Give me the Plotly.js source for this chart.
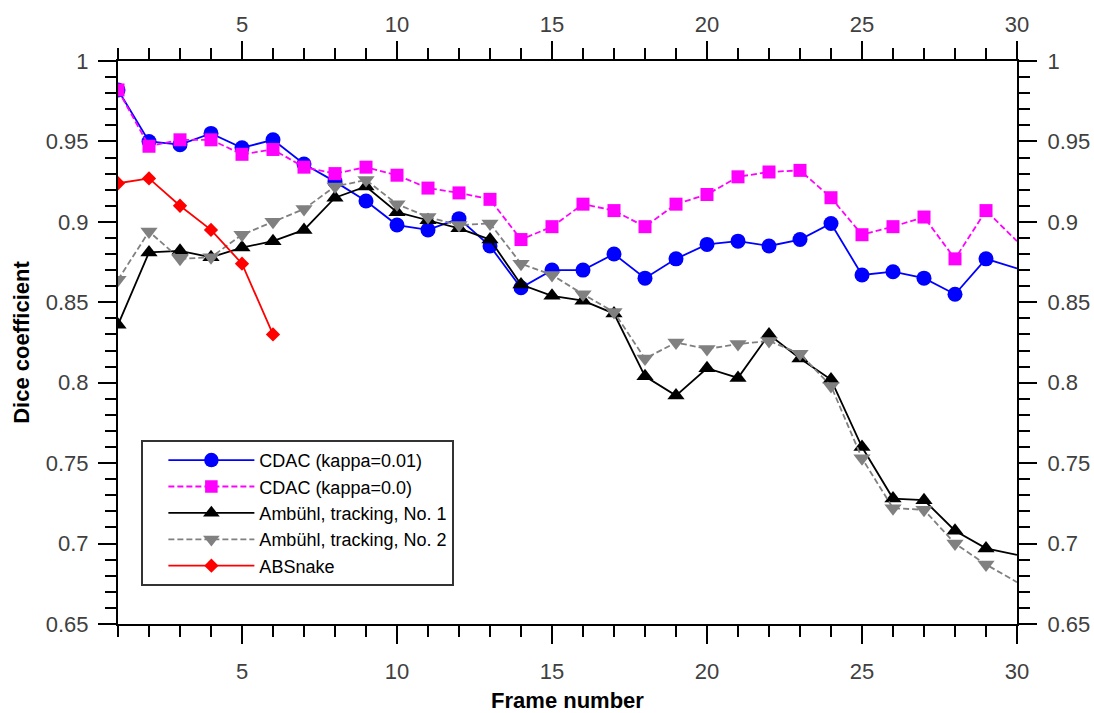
<!DOCTYPE html>
<html>
<head>
<meta charset="utf-8">
<script src="https://cdn.plot.ly/plotly-3.0.1.min.js"></script>
<style>html,body{margin:0;padding:0;background:#fff}#chart{width:1094px;height:713px}</style>
</head>
<body>
<div id="chart"></div>
<script>
var frames = [1,2,3,4,5,6,7,8,9,10,11,12,13,14,15,16,17,18,19,20,21,22,23,24,25,26,27,28,29,30];
var cdac001 = [0.982,0.950,0.948,0.955,0.946,0.951,0.936,0.925,0.913,0.898,0.895,0.902,0.885,0.859,0.870,0.870,0.880,0.865,0.877,0.886,0.888,0.885,0.889,0.899,0.867,0.869,0.865,0.855,0.877,0.871];
var cdac00 = [0.982,0.947,0.951,0.951,0.942,0.945,0.934,0.930,0.934,0.929,0.921,0.918,0.914,0.889,0.897,0.911,0.907,0.897,0.911,0.917,0.928,0.931,0.932,0.915,0.892,0.897,0.903,0.877,0.907,0.888];
var ambuhl1 = [0.836,0.881,0.882,0.878,0.884,0.888,0.895,0.915,0.922,0.906,0.901,0.896,0.889,0.861,0.854,0.851,0.843,0.804,0.792,0.809,0.803,0.830,0.815,0.802,0.760,0.728,0.727,0.708,0.697,0.693];
var ambuhl2 = [0.864,0.894,0.877,0.878,0.892,0.900,0.908,0.922,0.926,0.911,0.903,0.898,0.899,0.874,0.867,0.855,0.844,0.815,0.825,0.821,0.824,0.826,0.818,0.798,0.753,0.722,0.721,0.700,0.687,0.676];
var absFrames = [1,2,3,4,5,6];
var absnake = [0.924,0.927,0.910,0.895,0.874,0.830];
var seriesNames = ['CDAC (kappa=0.01)','CDAC (kappa=0.0)','Ambühl, tracking, No. 1','Ambühl, tracking, No. 2','ABSnake'];

function sizes(xs, s){ return xs.map(function(v){ return v >= 30 ? 0 : s; }); }
function mk(symbol, color, size){
  return {symbol: symbol, color: color, size: size, opacity: 1, line: {width: 0}};
}

var traces = [
  {x: frames, y: cdac001, name: seriesNames[0], mode: 'lines+markers',
   line: {color: '#0000ff', width: 1.8}, marker: mk('circle', '#0000ff', sizes(frames, 15))},
  {x: frames, y: cdac00, name: seriesNames[1], mode: 'lines+markers',
   line: {color: '#ff00ff', width: 1.8, dash: '6px,3px'}, marker: mk('square', '#ff00ff', sizes(frames, 13))},
  {x: frames, y: ambuhl1, name: seriesNames[2], mode: 'lines+markers',
   line: {color: '#000000', width: 1.8}, marker: mk('triangle-up', '#000000', sizes(frames, 15))},
  {x: frames, y: ambuhl2, name: seriesNames[3], mode: 'lines+markers',
   line: {color: '#808080', width: 1.8, dash: '6px,3px'}, marker: mk('triangle-down', '#808080', sizes(frames, 15))},
  {x: absFrames, y: absnake, name: seriesNames[4], mode: 'lines+markers',
   line: {color: '#ff0000', width: 1.8}, marker: mk('diamond', '#ff0000', 11)},
  {x: frames, y: cdac001, xaxis: 'x2', yaxis: 'y2', mode: 'none', showlegend: false, hoverinfo: 'skip'}
];

var tickFont = {family: 'Liberation Sans, Arial, sans-serif', size: 22, color: '#404040'};
function xax(side, so){
  return {range: [1, 30], tick0: 0, dtick: 5, ticks: 'outside', ticklen: 18, tickwidth: 2, tickcolor: '#000',
    showline: true, linewidth: 2, linecolor: '#000', showgrid: false, zeroline: false,
    minor: {dtick: 1, ticks: 'outside', ticklen: 11, tickwidth: 2, tickcolor: '#000', showgrid: false},
    tickfont: tickFont, side: side, ticklabelstandoff: so, fixedrange: true};
}
function yax(side, so){
  return {range: [0.65, 1], tick0: 0, dtick: 0.05, ticks: 'outside', ticklen: 18, tickwidth: 2, tickcolor: '#000',
    showline: true, linewidth: 2, linecolor: '#000', showgrid: false, zeroline: false,
    minor: {dtick: 0.01, ticks: 'outside', ticklen: 11, tickwidth: 2, tickcolor: '#000', showgrid: false},
    tickfont: tickFont, side: side, ticklabelstandoff: so, fixedrange: true};
}
var titleFont = {family: 'Liberation Sans, Arial, sans-serif', size: 22, color: '#000', weight: 'bold'};
var xa = xax('bottom', 9);
xa.title = {text: 'Frame number', font: titleFont, standoff: 10};
var ya = yax('left', 5);
ya.title = {text: 'Dice coefficient', font: titleFont, standoff: 10};
var xa2 = xax('top', 0); xa2.overlaying = 'x'; xa2.anchor = 'y';
var ya2 = yax('right', 6); ya2.overlaying = 'y'; ya2.anchor = 'x';

var layout = {
  width: 1094, height: 713,
  margin: {l: 118, r: 77, t: 61, b: 89, pad: 0},
  paper_bgcolor: '#fff', plot_bgcolor: '#fff',
  showlegend: true,
  xaxis: xa, yaxis: ya, xaxis2: xa2, yaxis2: ya2,
  legend: {x: 0.026, y: 0.327, xanchor: 'left', yanchor: 'top', bgcolor: '#fff',
    bordercolor: '#333', borderwidth: 2, itemwidth: 86, indentation: 20, tracegroupgap: 0,
    font: {family: 'Liberation Sans, Arial, sans-serif', size: 18, color: '#000'}},
  hovermode: false
};
Plotly.newPlot('chart', traces, layout, {displayModeBar: false, staticPlot: true});
</script>
</body>
</html>
